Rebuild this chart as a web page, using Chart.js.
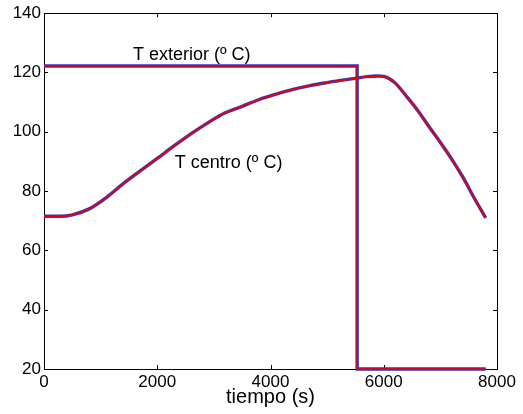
<!DOCTYPE html>
<html>
<head>
<meta charset="utf-8">
<script src="https://cdn.jsdelivr.net/npm/chart.js@4/dist/chart.umd.min.js"></script>
<style>
  html, body { margin: 0; padding: 0; background: #fff; }
  #wrap { width: 523px; height: 414px; }
</style>
</head>
<body>
<div id="wrap"><canvas id="tempChart"></canvas></div>
<script>
// tiempo (s) / temperatura (º C)
const timeCentro = [0, 300, 500, 800, 1100, 1400, 1700, 2000, 2300, 2600, 2900, 3200, 3500, 3800, 4100, 4400, 4700, 5000, 5300, 5500, 5700, 5900, 6000, 6100, 6200, 6400, 6600, 6800, 7000, 7200, 7400, 7600, 7800];
const tempCentro = [71.5, 71.5, 72.0, 74.0, 77.8, 82.5, 86.8, 91.0, 95.3, 99.4, 103.1, 106.4, 108.6, 110.9, 112.7, 114.3, 115.6, 116.6, 117.5, 118.0, 118.6, 118.8, 118.7, 117.9, 116.5, 112.0, 107.2, 101.7, 96.4, 90.8, 84.6, 77.6, 71.0];

const timeExterior = [0, 5530, 5530, 7800];
const tempExterior = [122.2, 122.2, 20, 20];

const xTicks = [0, 2000, 4000, 6000, 8000];
const yTicks = [20, 40, 60, 80, 100, 120, 140];

const labelExterior = 'T exterior (º C)';
const labelCentro = 'T centro (º C)';

const FONT = '"Liberation Sans", Arial, sans-serif';

function toPoints(xs, ys) {
    return xs.map((x, i) => ({x: x, y: ys[i]}));
}

function makeSet(xs, ys, color, width, order, smooth) {
    return {
        data: toPoints(xs, ys),
        borderColor: color,
        borderWidth: width,
        pointRadius: 0,
        fill: false,
        tension: smooth ? 0.3 : 0,
        cubicInterpolationMode: smooth ? 'monotone' : 'default',
        clip: 6,
        order: order
    };
}

// box round the axes, ticks pointing in, and the two text labels
const matlabAxes = {
    id: 'matlabAxes',
    beforeDatasetsDraw(chart) {
        const ctx = chart.ctx;
        const a = chart.chartArea;
        const xs = chart.scales.x;
        const ys = chart.scales.y;
        ctx.save();
        ctx.strokeStyle = '#000';
        ctx.lineWidth = 1;
        ctx.strokeRect(Math.round(a.left) + 0.5, Math.round(a.top) + 0.5,
            Math.round(a.right - a.left), Math.round(a.bottom - a.top));

        const len = 4;
        ctx.beginPath();
        xTicks.forEach(v => {
            const px = Math.round(xs.getPixelForValue(v)) + 0.5;
            ctx.moveTo(px, a.bottom);
            ctx.lineTo(px, a.bottom - len);
            ctx.moveTo(px, a.top);
            ctx.lineTo(px, a.top + len);
        });
        yTicks.forEach(v => {
            const py = Math.round(ys.getPixelForValue(v)) + 0.5;
            ctx.moveTo(a.left, py);
            ctx.lineTo(a.left + len, py);
            ctx.moveTo(a.right, py);
            ctx.lineTo(a.right - len, py);
        });
        ctx.stroke();

        ctx.fillStyle = '#000';
        ctx.font = '18px ' + FONT;
        ctx.textAlign = 'left';
        ctx.textBaseline = 'alphabetic';
        ctx.fillText(labelExterior, xs.getPixelForValue(1570), ys.getPixelForValue(124.2));
        ctx.fillText(labelCentro, xs.getPixelForValue(2310), ys.getPixelForValue(87.8));
        ctx.restore();
    }
};

const ctx = document.getElementById('tempChart').getContext('2d');

new Chart(ctx, {
    type: 'line',
    data: {
        datasets: [
            makeSet(timeCentro, tempCentro, '#ee0000', 1.6, 0, true),
            makeSet(timeExterior, tempExterior, '#ee0000', 1.6, 0, false),
            makeSet(timeCentro, tempCentro, '#3333bb', 3.4, 1, true),
            makeSet(timeExterior, tempExterior, '#3333bb', 3.4, 1, false)
        ]
    },
    options: {
        responsive: true,
        maintainAspectRatio: false,
        animation: false,
        layout: {
            padding: {top: 13, right: 26, left: 0, bottom: 0}
        },
        plugins: {
            legend: {display: false},
            tooltip: {enabled: false}
        },
        scales: {
            x: {
                type: 'linear',
                min: 0,
                max: 8000,
                afterBuildTicks: scale => {
                    scale.ticks = xTicks.map(v => ({value: v}));
                },
                afterFit: scale => {
                    scale.height = 45;
                },
                grid: {display: false, drawTicks: false},
                border: {display: false},
                ticks: {
                    color: '#000',
                    padding: 3,
                    maxRotation: 0,
                    font: {family: FONT, size: 17},
                    callback: v => String(v)
                },
                title: {
                    display: true,
                    text: 'tiempo (s)',
                    color: '#000',
                    font: {family: FONT, size: 20},
                    padding: {top: 0, bottom: 5}
                }
            },
            y: {
                type: 'linear',
                min: 20,
                max: 140,
                afterBuildTicks: scale => {
                    scale.ticks = yTicks.map(v => ({value: v}));
                },
                afterFit: scale => {
                    scale.width = 44;
                },
                grid: {display: false, drawTicks: false},
                border: {display: false},
                ticks: {
                    color: '#000',
                    padding: 3,
                    font: {family: FONT, size: 17},
                    callback: v => String(v)
                }
            }
        }
    },
    plugins: [matlabAxes]
});
</script>
</body>
</html>
